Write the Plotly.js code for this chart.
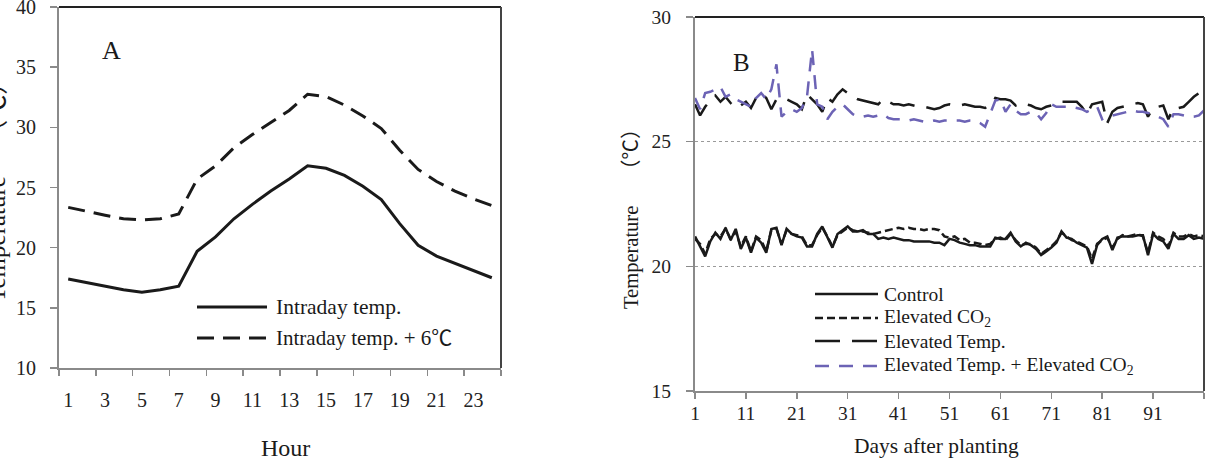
<!DOCTYPE html>
<html>
<head>
<meta charset="utf-8">
<script src="https://cdn.plot.ly/plotly-3.0.1.min.js"></script>
<style>
  html, body { margin: 0; padding: 0; background: #fff; }
  #chart { width: 1209px; height: 459px; }
</style>
</head>
<body>
<div id="chart"></div>
<script>
// Panel A: hourly temperature profile
const hours = [1, 2, 3, 4, 5, 6, 7, 8, 9, 10, 11, 12, 13, 14, 15, 16, 17, 18, 19, 20, 21, 22, 23, 24];
const intradayTemp = [17.4, 17.1, 16.8, 16.5, 16.3, 16.5, 16.8, 19.7, 20.9, 22.4, 23.6, 24.7,
                      25.7, 26.8, 26.6, 26.0, 25.1, 24.0, 22.0, 20.2, 19.3, 18.7, 18.1, 17.5];
const intradayPlus6 = [23.35, 23.0, 22.7, 22.4, 22.3, 22.4, 22.8, 25.7, 26.8, 28.3, 29.4, 30.4,
                       31.4, 32.75, 32.55, 31.85, 30.95, 29.9, 28.1, 26.5, 25.5, 24.7, 24.05, 23.5];
const hourTicks = [1, 3, 5, 7, 9, 11, 13, 15, 17, 19, 21, 23];
const hourBounds = [0.5, 2.5, 4.5, 6.5, 8.5, 10.5, 12.5, 14.5, 16.5, 18.5, 20.5, 22.5, 24.5];

// Panel B: daily mean temperature by treatment
const control = [21.2, 20.8, 20.4, 21.0, 21.35, 21.1, 21.55, 21.05, 21.5, 20.7,
                 21.15, 20.55, 21.15, 20.95, 20.55, 21.5, 21.55, 20.85, 21.5, 21.3,
                 21.2, 21.15, 20.8, 20.8, 21.3, 21.6, 21.15, 20.75, 21.3, 21.45,
                 21.6, 21.4, 21.4, 21.45, 21.3, 21.3, 21.1, 21.15, 21.1, 21.15,
                 21.1, 21.05, 21.05, 21.0, 21.0, 21.0, 21.0, 20.95, 20.95, 20.85,
                 21.1, 21.05, 20.95, 20.9, 20.85, 20.85, 20.8, 20.8, 20.8, 21.15,
                 21.1, 21.1, 21.35, 21.0, 20.8, 20.95, 20.85, 20.7, 20.45, 20.6,
                 20.75, 20.95, 21.4, 21.15, 21.1, 20.95, 20.85, 20.75, 20.1, 20.85,
                 21.1, 21.2, 20.65, 21.15, 21.2, 21.2, 21.2, 21.25, 21.25, 20.45,
                 21.3, 21.1, 21.0, 20.7, 21.3, 21.1, 21.1, 21.25, 21.1, 21.15, 21.1];
const elevatedCO2 = [21.1, 20.9, 20.5, 21.1, 21.3, 21.2, 21.5, 21.1, 21.4, 20.8,
                     21.2, 20.6, 21.2, 21.05, 20.6, 21.45, 21.5, 20.9, 21.45, 21.3,
                     21.25, 21.2, 20.85, 20.85, 21.25, 21.55, 21.2, 20.8, 21.25, 21.4,
                     21.55, 21.45, 21.4, 21.4, 21.35, 21.3, 21.35, 21.4, 21.45, 21.5,
                     21.55, 21.5, 21.55, 21.5, 21.5, 21.45, 21.5, 21.5, 21.45, 21.2,
                     21.15, 21.2, 21.05, 21.1, 20.95, 20.95, 20.9, 20.85, 20.9, 21.1,
                     21.15, 21.05, 21.3, 21.05, 20.85, 20.9, 20.9, 20.75, 20.5, 20.65,
                     20.8, 21.0, 21.35, 21.2, 21.05, 21.0, 20.9, 20.8, 20.3, 20.9,
                     21.05, 21.15, 20.75, 21.1, 21.25, 21.2, 21.25, 21.3, 21.2, 20.55,
                     21.35, 21.2, 21.1, 20.8, 21.35, 21.2, 21.2, 21.3, 21.2, 21.25, 21.2];
const elevatedTemp = [26.5, 26.05, 26.4, 26.65, 26.85, 26.6, 26.8, 26.55, 26.35, 26.45,
                      26.6, 26.35, 26.75, 26.95, 26.75, 26.3, 26.7, 26.7, 26.7, 26.6,
                      26.5, 26.3, 26.9, 26.7, 26.5, 26.2, 26.75, 26.6, 26.9, 27.1,
                      26.95, 26.8, 26.7, 26.65, 26.6, 26.55, 26.5, 26.7, 26.6, 26.5,
                      26.5, 26.45, 26.5, 26.45, 26.4, 26.4, 26.35, 26.3, 26.35, 26.45,
                      26.5, 26.45, 26.45, 26.5, 26.45, 26.4, 26.4, 26.35, 26.45, 26.75,
                      26.7, 26.7, 26.65, 26.45, 26.55, 26.5, 26.45, 26.35, 26.3, 26.4,
                      26.45, 26.55, 26.6, 26.6, 26.6, 26.6, 26.4, 26.1, 26.5, 26.55,
                      26.6, 25.75, 26.2, 26.35, 26.4, 26.45, 26.5, 26.55, 26.5, 26.0,
                      26.35, 26.4, 26.45, 25.9, 26.35, 26.35, 26.4, 26.6, 26.8, 26.95, 26.6];
const elevatedTempCO2 = [26.75, 26.3, 26.95, 27.0, 27.1, 27.2, 26.8, 26.9, 26.7, 26.6,
                         26.5, 26.4, 26.75, 26.95, 26.7, 27.1, 28.1, 26.0, 26.2, 26.3,
                         26.2, 26.35, 26.8, 28.7, 26.5, 26.4, 25.9, 26.2, 26.4, 26.5,
                         26.3, 26.1, 26.0, 26.0, 26.05, 26.0, 26.05, 26.1, 25.95, 25.9,
                         25.9, 25.9, 25.85, 25.9, 25.85, 25.8, 25.8, 25.85, 25.8, 25.85,
                         25.85, 25.85, 25.85, 25.8, 25.85, 25.85, 25.75, 25.6, 26.15, 26.65,
                         26.7, 26.2, 26.5, 26.25, 26.1, 26.1, 26.2, 26.15, 25.9, 26.15,
                         26.5, 26.4, 26.4, 26.4, 26.4, 26.35, 26.3, 26.2, 26.3, 26.4,
                         25.9, 26.0, 26.05, 26.1, 26.15, 26.2, 26.25, 26.2, 26.2, 26.15,
                         26.1, 26.0, 25.9, 25.6, 26.1, 26.1, 26.05, 26.0, 26.0, 26.05, 26.25];
const days = control.map((_, i) => i + 1);
const dayTicks = [1, 11, 21, 31, 41, 51, 61, 71, 81, 91, 101];
const dayTickText = ['1', '11', '21', '31', '41', '51', '61', '71', '81', '91', ''];

const W = 1209, H = 459;
const FONT = 'Liberation Serif, "Noto Sans CJK SC", serif';
const INK = '#1a1a1a';
const AXIS = '#8a8a8a';
const PURPLE = '#6c63b5';
const Y_TITLE = 'Temperature\u3000\u00a0（℃）';

const px = v => v / W;          // horizontal pixel -> paper
const py = v => 1 - v / H;      // vertical pixel -> paper

const traces = [
  { x: hours, y: intradayTemp, xaxis: 'x', yaxis: 'y', mode: 'lines',
    name: 'Intraday temp.', line: { color: INK, width: 3 } },
  { x: hours, y: intradayPlus6, xaxis: 'x', yaxis: 'y', mode: 'lines',
    name: 'Intraday temp. + 6℃', line: { color: INK, width: 3, dash: '17px,9px' } },
  { x: days, y: control, xaxis: 'x2', yaxis: 'y2', mode: 'lines',
    name: 'Control', line: { color: INK, width: 2.5 } },
  { x: days, y: elevatedCO2, xaxis: 'x2', yaxis: 'y2', mode: 'lines',
    name: 'Elevated CO2', line: { color: INK, width: 2.5, dash: '8px,4px' } },
  { x: days, y: elevatedTemp, xaxis: 'x2', yaxis: 'y2', mode: 'lines',
    name: 'Elevated Temp.', line: { color: INK, width: 2.5, dash: '25px,12px' } },
  { x: days, y: elevatedTempCO2, xaxis: 'x2', yaxis: 'y2', mode: 'lines',
    name: 'Elevated Temp. + Elevated CO2', line: { color: PURPLE, width: 2.5, dash: '14px,10px' } }
];

const tickFontA = { family: FONT, size: 20, color: '#222' };
const tickFontB = { family: FONT, size: 19.5, color: '#222' };

function note(text, x, y, size, extra) {
  return Object.assign({ text: text, xref: 'paper', yref: 'paper', x: px(x), y: py(y),
    xanchor: 'center', yanchor: 'middle', showarrow: false,
    font: { family: FONT, size: size, color: INK } }, extra || {});
}

const layout = {
  width: W, height: H,
  margin: { l: 0, r: 0, t: 0, b: 0 },
  paper_bgcolor: '#fff', plot_bgcolor: '#fff',
  showlegend: false,
  font: { family: FONT, color: INK },
  xaxis: {
    domain: [px(59), px(501)], anchor: 'y',
    range: [0.5, 24.5], tickmode: 'array', tickvals: hourTicks,
    ticks: '', ticklabelstandoff: 13, tickfont: tickFontA, ticklabeloverflow: 'allow',
    minor: { tickmode: 'array', tickvals: hourBounds,
             ticks: 'outside', ticklen: 6, tickwidth: 1.5, tickcolor: AXIS, showgrid: false },
    showline: true, linecolor: AXIS, linewidth: 2, showgrid: false, zeroline: false
  },
  yaxis: {
    domain: [py(368), py(7)], anchor: 'x',
    range: [10, 40], tickmode: 'linear', tick0: 10, dtick: 5,
    ticks: 'outside', ticklen: 7, tickwidth: 1.5, tickcolor: AXIS,
    ticklabelstandoff: 10, tickfont: tickFontA, ticklabeloverflow: 'allow',
    showline: true, linecolor: AXIS, linewidth: 2, showgrid: false, zeroline: false
  },
  xaxis2: {
    domain: [px(695), px(1204)], anchor: 'y2',
    range: [1, 101], tickmode: 'array', tickvals: dayTicks, ticktext: dayTickText,
    ticks: 'outside', ticklen: 6, tickwidth: 1.5, tickcolor: AXIS,
    ticklabelstandoff: -2, tickfont: tickFontB, ticklabeloverflow: 'allow',
    showline: true, linecolor: AXIS, linewidth: 2, showgrid: false, zeroline: false
  },
  yaxis2: {
    domain: [py(391), py(17)], anchor: 'x2',
    range: [15, 30], tickmode: 'linear', tick0: 15, dtick: 5,
    ticks: 'outside', ticklen: 7, tickwidth: 1.5, tickcolor: AXIS,
    ticklabelstandoff: 11, tickfont: tickFontB, ticklabeloverflow: 'allow',
    showline: true, linecolor: AXIS, linewidth: 2,
    showgrid: true, gridcolor: '#9a9a9a', gridwidth: 1.2, griddash: 'dot', zeroline: false
  },
  shapes: [
    // closing frame (top and right edges) of each panel
    { type: 'line', xref: 'x domain', yref: 'y domain', x0: 0, x1: 1, y0: 1, y1: 1, line: { color: '#222', width: 2 } },
    { type: 'line', xref: 'x domain', yref: 'y domain', x0: 1, x1: 1, y0: 0, y1: 1, line: { color: '#444', width: 2 } },
    { type: 'line', xref: 'x2 domain', yref: 'y2 domain', x0: 0, x1: 1, y0: 1, y1: 1, line: { color: '#222', width: 2 } },
    { type: 'line', xref: 'x2 domain', yref: 'y2 domain', x0: 1, x1: 1, y0: 0, y1: 1, line: { color: '#444', width: 2 } },
    // legend keys, panel A
    { type: 'line', xref: 'paper', yref: 'paper', x0: px(197), x1: px(267), y0: py(307), y1: py(307), line: { color: INK, width: 3 } },
    { type: 'line', xref: 'paper', yref: 'paper', x0: px(197), x1: px(267), y0: py(338), y1: py(338), line: { color: INK, width: 3, dash: '17px,9px' } },
    // legend keys, panel B
    { type: 'line', xref: 'paper', yref: 'paper', x0: px(815), x1: px(878), y0: py(294), y1: py(294), line: { color: INK, width: 2.5 } },
    { type: 'line', xref: 'paper', yref: 'paper', x0: px(815), x1: px(878), y0: py(318), y1: py(318), line: { color: INK, width: 2.5, dash: '8px,4px' } },
    { type: 'line', xref: 'paper', yref: 'paper', x0: px(815), x1: px(878), y0: py(341), y1: py(341), line: { color: INK, width: 2.5, dash: '25px,12px' } },
    { type: 'line', xref: 'paper', yref: 'paper', x0: px(815), x1: px(878), y0: py(366), y1: py(366), line: { color: PURPLE, width: 2.5, dash: '14px,10px' } }
  ],
  annotations: [
    // panel letters
    note('A', 111, 50, 26),
    note('B', 741, 62, 25),
    // axis titles
    note('Hour', 285, 448, 24),
    note(Y_TITLE, -4, 186, 25, { textangle: -90 }),
    note('Days after planting', 936, 446, 21.5),
    note(Y_TITLE, 631, 214, 20.5, { textangle: -90 }),
    // legend texts, panel A
    note('Intraday temp.', 274, 307, 21.5, { xanchor: 'left' }),
    note('Intraday temp. + 6℃', 274, 338, 21, { xanchor: 'left' }),
    // legend texts, panel B
    note('Control', 882, 294, 19.5, { xanchor: 'left' }),
    note('Elevated CO<sub>2</sub>', 882, 318, 19.5, { xanchor: 'left' }),
    note('Elevated Temp.', 882, 341, 19.5, { xanchor: 'left' }),
    note('Elevated Temp. + Elevated CO<sub>2</sub>', 882, 366, 19.5, { xanchor: 'left' })
  ]
};

Plotly.newPlot('chart', traces, layout, { staticPlot: true, displayModeBar: false });
</script>
</body>
</html>
